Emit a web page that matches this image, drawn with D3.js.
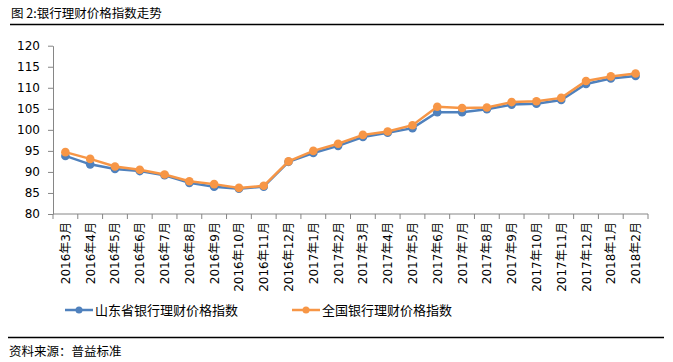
<!DOCTYPE html>
<html>
<head>
<meta charset="utf-8">
<script src="https://cdn.jsdelivr.net/npm/d3@7"></script>
<style>
body { margin: 0; background: #fff; }
svg { display: block; }
</style>
</head>
<body>
<div id="chart"></div>
<script>
// months on the x axis
var months = ["2016年3月","2016年4月","2016年5月","2016年6月","2016年7月","2016年8月","2016年9月","2016年10月","2016年11月","2016年12月",
  "2017年1月","2017年2月","2017年3月","2017年4月","2017年5月","2017年6月","2017年7月","2017年8月","2017年9月","2017年10月","2017年11月","2017年12月",
  "2018年1月","2018年2月"];
var shandong = [93.8,91.8,90.7,90.2,89.2,87.4,86.5,86.0,86.5,92.4,94.5,96.2,98.3,99.3,100.4,104.2,104.2,104.9,106.0,106.2,107.1,110.9,112.2,112.8];
var national = [94.7,93.1,91.3,90.5,89.4,87.8,87.1,86.2,86.7,92.5,95.0,96.7,98.8,99.6,101.1,105.5,105.2,105.3,106.6,106.8,107.6,111.6,112.7,113.4];
var yTicks = [80,85,90,95,100,105,110,115,120];
var seriesNames = ["山东省银行理财价格指数","全国银行理财价格指数"];
var colors = ["#4F81BD","#F79646"];

function drawChart(){
var W = 673, H = 362;
var svg = d3.select("#chart").append("svg")
  .attr("width", W)
  .attr("height", H);

var font = "'Noto Sans CJK SC', 'DejaVu Sans', sans-serif";
var numFont = "'DejaVu Sans', 'Noto Sans CJK SC', sans-serif";

// title + rule
svg.append("text")
  .attr("x", 11)
  .attr("y", 18)
  .attr("font-family", font)
  .attr("font-size", 12.5)
  .attr("fill", "#000")
  .text("图 2:银行理财价格指数走势");
svg.append("line")
  .attr("x1", 10).attr("x2", 664)
  .attr("y1", 24.5).attr("y2", 24.5)
  .attr("stroke", "#000").attr("stroke-width", 1.3);

var pLeft = 53, pRight = 648, pTop = 45.7, pBottom = 214;

var x = d3.scaleBand()
  .domain(months)
  .range([pLeft, pRight]);
var y = d3.scaleLinear()
  .domain([80,120])
  .range([pBottom, pTop]);

// y axis
var yAxis = svg.append("g")
  .attr("transform", "translate(" + pLeft + ",0)")
  .call(d3.axisLeft(y).tickValues(yTicks).tickSize(5).tickPadding(8).tickSizeOuter(0));
yAxis.selectAll("path, line").attr("stroke", "#868686");
yAxis.selectAll("text")
  .attr("font-family", "'DejaVu Sans', sans-serif")
  .attr("font-size", 12)
  .attr("fill", "#000");

// x axis with category ticks between months
var xAxisG = svg.append("g")
  .attr("transform", "translate(0," + pBottom + ")");
xAxisG.append("line")
  .attr("x1", pLeft).attr("x2", pRight)
  .attr("stroke", "#868686");
var bounds = months.map(function(m){ return x(m); }).concat([pRight]);
xAxisG.selectAll("line.tk")
  .data(bounds)
  .enter().append("line")
  .attr("class", "tk")
  .attr("x1", function(d){ return d; })
  .attr("x2", function(d){ return d; })
  .attr("y1", 0).attr("y2", 5)
  .attr("stroke", "#868686");
xAxisG.selectAll("text")
  .data(months)
  .enter().append("text")
  .attr("transform", function(d){
    return "translate(" + (x(d) + x.bandwidth()/2 + 4.5) + ",8) rotate(-90)";
  })
  .attr("text-anchor", "end")
  .attr("font-family", numFont)
  .attr("font-size", 12)
  .attr("fill", "#000")
  .text(function(d){ return d; });

// lines
var line = d3.line()
  .x(function(d, i){ return x(months[i]) + x.bandwidth()/2; })
  .y(function(d){ return y(d); });

[shandong, national].forEach(function(data, k){
  svg.append("path")
    .datum(data)
    .attr("d", line)
    .attr("fill", "none")
    .attr("stroke", colors[k])
    .attr("stroke-width", 2.5);
  svg.selectAll("circle.s" + k)
    .data(data)
    .enter().append("circle")
    .attr("class", "s" + k)
    .attr("cx", function(d, i){ return x(months[i]) + x.bandwidth()/2; })
    .attr("cy", function(d){ return y(d); })
    .attr("r", 4.3)
    .attr("fill", colors[k]);
});

// legend
var legendX = [65, 292];
seriesNames.forEach(function(name, k){
  var g = svg.append("g").attr("transform", "translate(" + legendX[k] + ",310)");
  g.append("line").attr("x1", 0).attr("x2", 28)
    .attr("stroke", colors[k]).attr("stroke-width", 2.5);
  g.append("circle").attr("cx", 14).attr("cy", 0).attr("r", 3.5).attr("fill", colors[k]);
  g.append("text")
    .attr("x", 30)
    .attr("y", 5)
    .attr("font-family", font)
    .attr("font-size", 13)
    .attr("fill", "#000")
    .text(name);
});

// bottom rule + source
svg.append("line")
  .attr("x1", 8).attr("x2", 664)
  .attr("y1", 337.5).attr("y2", 337.5)
  .attr("stroke", "#000").attr("stroke-width", 1.3);
svg.append("text")
  .attr("x", 9)
  .attr("y", 356)
  .attr("font-family", font)
  .attr("font-size", 12.5)
  .attr("fill", "#000")
  .text("资料来源：普益标准");
}
drawChart();
</script>
</body>
</html>
